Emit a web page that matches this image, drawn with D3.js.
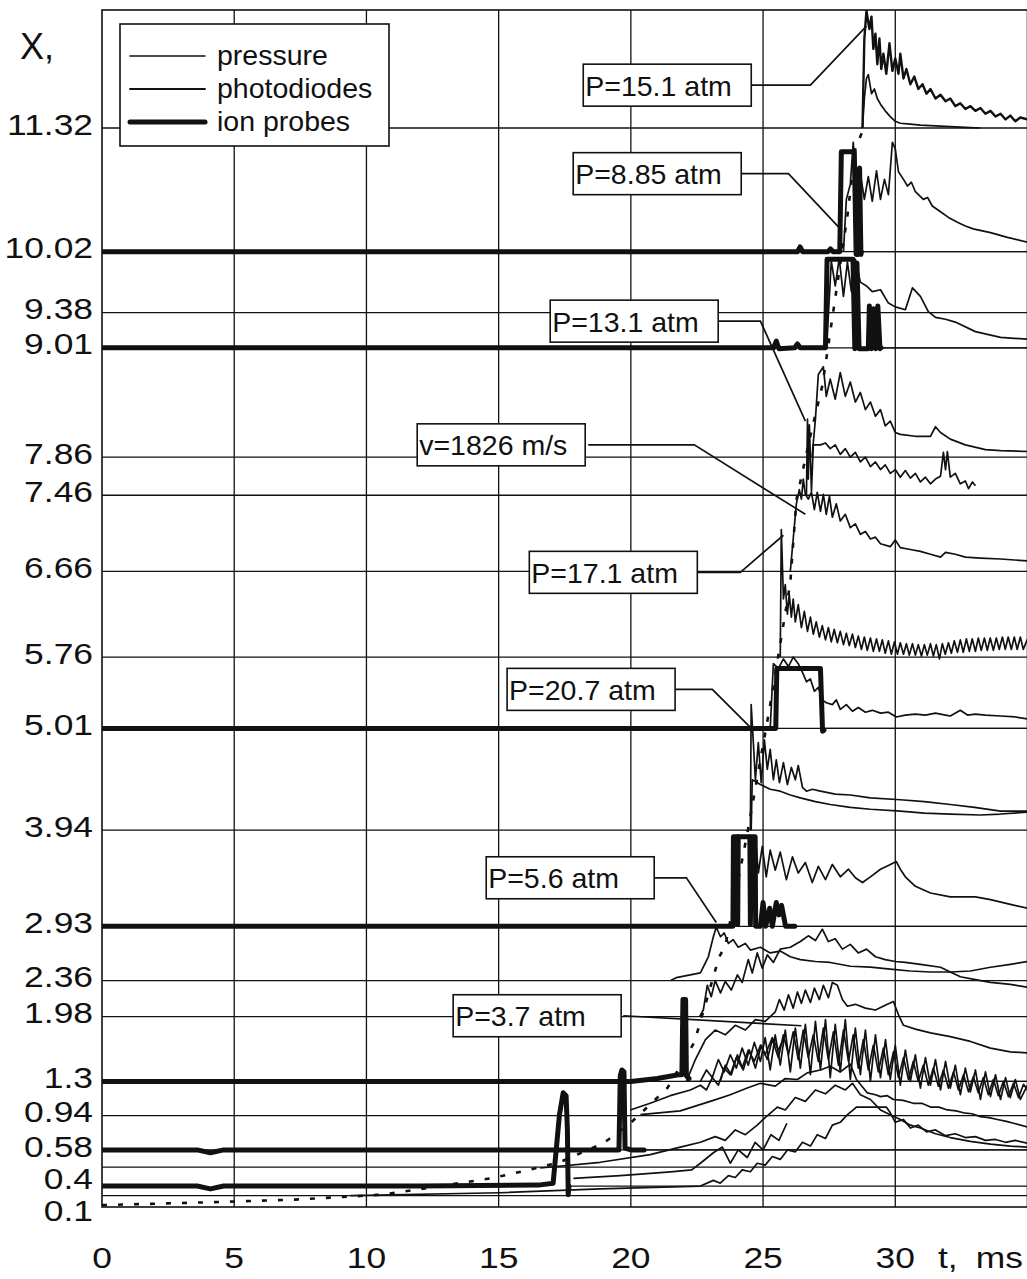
<!DOCTYPE html>
<html>
<head>
<meta charset="utf-8">
<script src="https://cdn.jsdelivr.net/npm/d3@7"></script>
<style>
  html, body { margin: 0; padding: 0; background: #fff; }
  svg { display: block; }
  text { font-family: "Liberation Sans", Arial, sans-serif; fill: #111; }
</style>
</head>
<body>
<svg id="chart" width="1027" height="1279"></svg>
<script>
// Gauge stations along the tube (X axis ticks) and time ticks (ms)
const stations = [11.32, 10.02, 9.38, 9.01, 7.86, 7.46, 6.66, 5.76, 5.01, 3.94, 2.93, 2.36, 1.98, 1.3, 0.94, 0.58, 0.4, 0.1];
const timeTicks = [0, 5, 10, 15, 20, 25, 30];

// Each record is [t (ms), X]; a signal is drawn offset onto its station's level.
const pressure1132 = [[28.76,11.32],[28.83,12.26],[28.91,12.55],[29.02,12.36],[29.10,12.49],[29.17,12.15],[29.25,12.31],[29.32,11.99],[29.40,12.26],[29.47,11.94],[29.55,12.10],[29.66,11.89],[29.78,12.21],[29.89,11.92],[30.00,12.05],[30.12,11.89],[30.19,12.10],[30.31,11.84],[30.42,11.94],[30.57,11.78],[30.72,11.86],[30.87,11.73],[31.03,11.78],[31.18,11.68],[31.33,11.73],[31.52,11.63],[31.71,11.67],[31.90,11.60],[32.08,11.63],[32.27,11.55],[32.46,11.58],[32.65,11.52],[32.84,11.55],[33.03,11.50],[33.22,11.53],[33.41,11.47],[33.60,11.50],[33.79,11.44],[33.98,11.47],[34.17,11.41],[34.35,11.45],[34.54,11.39],[34.73,11.43],[35.00,11.41]];
const photo1132 = [[28.76,11.32],[28.83,11.63],[28.91,11.84],[28.98,11.88],[29.10,11.68],[29.21,11.73],[29.32,11.63],[29.44,11.57],[29.62,11.50],[29.81,11.44],[30.00,11.39],[30.19,11.37],[30.57,11.36],[30.95,11.35],[31.71,11.34],[32.46,11.33],[33.22,11.32]];

const ion1002 = [[0,10.02],[26.30,10.02],[26.40,10.07],[26.50,10.02],[27.45,10.02],[27.55,10.05],[27.65,10.02],[27.90,10.02],[27.96,11.07],[28.45,11.07],[28.52,9.99],[28.60,9.99],[28.65,10.90],[28.70,9.99],[28.72,10.02]];
const signal1002 = [[28.04,10.02],[28.15,10.57],[28.30,10.73],[28.41,11.17],[28.53,10.68],[28.68,10.84],[28.83,10.57],[28.98,10.81],[29.13,10.55],[29.29,10.87],[29.44,10.57],[29.59,10.78],[29.74,10.62],[29.89,11.17],[30.00,11.10],[30.12,10.86],[30.31,10.78],[30.46,10.71],[30.61,10.75],[30.76,10.65],[31.06,10.57],[31.22,10.59],[31.40,10.50],[31.71,10.44],[32.01,10.38],[32.35,10.33],[32.65,10.29],[32.95,10.26],[33.60,10.22],[34.24,10.17],[35.00,10.12]];

const ion901 = [[0,9.01],[25.40,9.01],[25.50,9.08],[25.60,9.00],[26.20,9.01],[26.30,9.05],[26.40,9.01],[27.36,9.01],[27.42,9.94],[28.40,9.94],[28.47,9.00],[28.55,9.90],[28.63,9.00],[28.98,9.00],[29.02,9.45],[29.10,9.00],[29.18,9.42],[29.26,9.00],[29.34,9.45],[29.42,9.00],[29.46,9.01]];
const signal901 = [[27.39,9.01],[27.47,9.35],[27.58,9.92],[27.73,9.66],[27.88,9.95],[28.04,9.55],[28.19,9.91],[28.34,9.60],[28.49,9.94],[28.68,9.70],[28.91,9.66],[29.13,9.60],[29.44,9.62],[29.74,9.48],[30.00,9.44],[30.38,9.41],[30.65,9.64],[30.95,9.55],[31.25,9.39],[31.52,9.33],[31.90,9.31],[32.27,9.28],[33.03,9.18],[33.98,9.12],[35.00,9.10]];

const signal786 = [[26.85,7.86],[26.98,8.26],[27.09,8.73],[27.28,8.81],[27.39,8.50],[27.54,8.68],[27.73,8.47],[27.92,8.75],[28.11,8.50],[28.30,8.65],[28.49,8.44],[28.68,8.54],[28.87,8.36],[29.06,8.44],[29.25,8.29],[29.44,8.36],[29.62,8.19],[29.81,8.24],[30.00,8.12],[30.19,8.10],[30.76,8.08],[31.33,8.08],[31.52,8.18],[31.71,8.12],[32.08,8.05],[32.65,7.99],[33.41,7.94],[33.98,7.93],[35.00,7.92]];
const signal746 = [[26.64,7.46],[26.68,8.26],[26.71,7.63],[26.75,8.20],[26.83,7.50],[26.90,7.99],[27.17,7.99],[27.36,8.01],[27.54,7.95],[27.73,7.99],[27.92,7.89],[28.11,7.95],[28.30,7.86],[28.49,7.91],[28.68,7.81],[28.87,7.86],[29.06,7.76],[29.25,7.81],[29.44,7.73],[29.62,7.78],[29.81,7.69],[30.00,7.73],[30.19,7.65],[30.38,7.72],[30.57,7.64],[30.76,7.69],[30.95,7.60],[31.14,7.65],[31.33,7.58],[31.52,7.63],[31.71,7.66],[31.82,7.91],[31.90,7.73],[31.97,7.92],[32.08,7.65],[32.27,7.69],[32.46,7.58],[32.65,7.61],[32.77,7.53],[32.92,7.60],[33.03,7.56]];

const signal666 = [[26.03,6.66],[26.14,7.00],[26.26,7.37],[26.37,7.52],[26.45,7.42],[26.52,7.63],[26.60,7.47],[26.71,7.42],[26.83,7.49],[26.94,7.31],[27.05,7.49],[27.17,7.29],[27.28,7.47],[27.39,7.26],[27.51,7.45],[27.62,7.23],[27.77,7.37],[27.92,7.19],[28.11,7.26],[28.30,7.12],[28.49,7.16],[28.68,7.05],[28.87,7.08],[29.06,7.00],[29.25,7.02],[29.44,6.95],[29.81,6.92],[30.00,6.99],[30.19,6.91],[30.57,6.89],[30.95,6.87],[31.33,6.84],[31.71,6.81],[31.90,6.86],[32.27,6.84],[32.65,6.81],[33.22,6.80],[33.98,6.79],[35.00,6.77]];

const signal576 = [[25.65,5.76],[25.69,7.10],[25.77,6.37],[25.84,6.52],[25.92,6.21],[25.99,6.42],[26.07,6.18],[26.14,6.37],[26.22,6.13],[26.33,6.31],[26.45,6.07],[26.56,6.24],[26.68,6.03],[26.79,6.18],[26.90,6.00],[27.01,6.13],[27.13,5.97],[27.24,6.09],[27.36,5.94],[27.47,6.07],[27.58,5.92],[27.69,6.05],[27.81,5.91],[27.92,6.03],[28.04,5.89],[28.15,6.01],[28.26,5.88],[28.38,6.00],[28.49,5.86],[28.60,5.98],[28.72,5.84],[28.83,5.97],[28.94,5.83],[29.06,5.96],[29.17,5.82],[29.29,5.95],[29.40,5.82],[29.51,5.94],[29.62,5.80],[29.74,5.93],[29.85,5.79],[29.97,5.92],[30.08,5.79],[30.19,5.91],[30.31,5.79],[30.42,5.90],[30.53,5.78],[30.65,5.90],[30.76,5.78],[30.87,5.89],[30.99,5.77],[31.10,5.89],[31.21,5.78],[31.33,5.90],[31.44,5.77],[31.55,5.89],[31.67,5.74],[31.78,5.90],[31.89,5.79],[32.01,5.91],[32.12,5.80],[32.23,5.93],[32.35,5.81],[32.46,5.94],[32.57,5.81],[32.69,5.95],[32.80,5.82],[32.91,5.95],[33.03,5.82],[33.14,5.96],[33.25,5.83],[33.37,5.96],[33.48,5.83],[33.59,5.96],[33.71,5.83],[33.82,5.96],[33.93,5.84],[34.05,5.97],[34.16,5.84],[34.27,5.97],[34.39,5.84],[34.50,5.97],[34.61,5.84],[34.73,5.97],[34.84,5.84],[35.00,5.95]];

const ion501 = [[0,5.01],[25.48,5.01],[25.52,5.64],[27.17,5.64],[27.25,4.98],[27.30,4.99]];
const signal501 = [[25.27,5.01],[25.39,5.69],[25.58,5.64],[25.77,5.74],[25.96,5.66],[26.14,5.76],[26.33,5.69],[26.52,5.58],[26.64,5.50],[26.79,5.53],[26.94,5.40],[27.09,5.44],[27.24,5.31],[27.39,5.28],[27.62,5.26],[27.77,5.31],[27.92,5.21],[28.15,5.26],[28.38,5.19],[28.60,5.23],[28.87,5.18],[29.13,5.20],[29.44,5.17],[29.74,5.18],[30.04,5.13],[30.38,5.15],[30.76,5.16],[31.14,5.15],[31.52,5.17],[31.90,5.15],[32.08,5.14],[32.46,5.20],[32.73,5.15],[33.03,5.16],[33.41,5.15],[33.98,5.14],[34.54,5.13],[35.00,5.11]];

const signal394a = [[24.52,3.94],[24.55,5.26],[24.62,4.92],[24.71,4.47],[24.82,4.86],[24.93,4.44],[25.05,4.89],[25.16,4.58],[25.27,4.79],[25.39,4.47],[25.50,4.68],[25.62,4.44],[25.77,4.65],[25.92,4.42],[26.07,4.60],[26.22,4.47],[26.33,4.62],[26.49,4.39],[26.64,4.35],[26.86,4.37],[27.17,4.35],[27.73,4.32],[28.30,4.31],[29.06,4.28],[30.19,4.26],[31.10,4.24],[32.08,4.21],[33.00,4.18],[33.98,4.14],[35.00,4.14]];
const signal394b = [[24.55,3.94],[24.59,4.47],[24.90,4.42],[25.27,4.37],[25.65,4.35],[26.03,4.31],[26.41,4.28],[26.98,4.24],[27.54,4.21],[28.30,4.18],[29.06,4.16],[30.19,4.14],[31.10,4.12],[32.08,4.11],[33.22,4.10],[33.98,4.11],[35.00,4.13]];

const ion293 = [[0,2.93],[23.86,2.93],[23.88,3.87],[24.02,3.87],[24.04,2.95],[24.06,3.87],[24.50,3.87],[24.52,2.95],[24.56,3.87],[24.70,3.87],[24.72,2.93],[24.90,2.93],[25.00,3.18],[25.10,2.93],[25.25,3.12],[25.35,2.93],[25.50,3.18],[25.60,3.05],[25.70,3.15],[25.85,2.93],[26.20,2.93]];
const signal293 = [[24.71,3.87],[24.82,3.49],[24.97,3.77],[25.12,3.45],[25.27,3.73],[25.46,3.52],[25.65,3.71],[25.88,3.42],[26.11,3.66],[26.33,3.49],[26.60,3.60],[26.86,3.39],[27.09,3.56],[27.36,3.42],[27.62,3.58],[27.92,3.45],[28.23,3.53],[28.49,3.44],[28.76,3.39],[29.06,3.45],[29.44,3.53],[29.74,3.57],[30.04,3.61],[30.19,3.53],[30.38,3.45],[30.76,3.35],[31.33,3.28],[32.08,3.24],[32.46,3.24],[33.03,3.24],[33.60,3.21],[34.35,3.16],[35.00,3.12]];

const signal236 = [[21.50,2.36],[21.72,2.39],[22.63,2.44],[22.93,2.61],[23.12,2.82],[23.23,2.92],[23.39,2.82],[23.53,2.86],[23.69,2.75],[23.87,2.79],[24.06,2.71],[24.33,2.75],[24.52,2.68],[24.90,2.71],[25.27,2.65],[25.65,2.67],[26.03,2.61],[26.41,2.58],[26.98,2.56],[27.54,2.55],[28.30,2.51],[29.06,2.50],[29.81,2.48],[30.57,2.46],[31.33,2.45],[32.08,2.45],[32.84,2.46],[33.60,2.50],[34.35,2.53],[35.00,2.56]];

const signal198 = [[22.60,1.98],[22.74,2.05],[22.89,2.31],[23.04,2.19],[23.19,2.36],[23.39,2.23],[23.57,2.35],[23.80,2.26],[24.03,2.42],[24.21,2.34],[24.44,2.58],[24.59,2.44],[24.78,2.65],[24.97,2.49],[25.16,2.63],[25.39,2.55],[25.65,2.69],[26.03,2.71],[26.41,2.77],[26.71,2.83],[26.98,2.78],[27.24,2.90],[27.47,2.77],[27.73,2.80],[28.00,2.69],[28.30,2.74],[28.60,2.65],[28.91,2.69],[29.25,2.61],[29.62,2.58],[30.00,2.56],[30.38,2.55],[30.95,2.53],[31.71,2.50],[32.08,2.45],[32.46,2.40],[33.03,2.37],[33.60,2.34],[34.35,2.32],[35.00,2.29]];

const ion130 = [[0,1.30],[20.00,1.30],[21.00,1.33],[21.80,1.37],[21.93,1.37],[21.97,2.16],[22.07,2.16],[22.10,1.36],[22.20,1.33]];
const pressure130 = [[22.10,1.30],[22.44,1.53],[22.82,1.74],[23.19,1.84],[23.57,1.79],[23.95,1.89],[24.33,1.84],[24.71,1.95],[25.08,1.93],[25.46,2.03],[25.62,2.16],[25.80,2.05],[25.96,2.21],[26.14,2.07],[26.30,2.24],[26.45,2.12],[26.60,2.26],[26.79,2.13],[26.94,2.28],[27.13,2.16],[27.28,2.31],[27.47,2.18],[27.62,2.34],[27.81,2.31],[28.00,2.16],[28.19,2.09],[28.49,2.11],[28.87,2.07],[29.25,2.05],[29.62,2.10],[29.93,2.14],[30.12,2.00],[30.31,1.89],[30.76,1.85],[31.33,1.81],[32.08,1.77],[32.84,1.72],[33.60,1.65],[34.35,1.61],[35.00,1.60]];
const photo130a = [[22.63,1.30],[22.86,1.42],[23.08,1.34],[23.31,1.53],[23.53,1.40],[23.76,1.58],[23.99,1.44],[24.21,1.65],[24.44,1.47],[24.67,1.71],[24.90,1.51],[25.08,1.76],[25.27,1.42],[25.46,1.79],[25.65,1.47],[25.84,1.84],[26.03,1.40],[26.22,1.86],[26.41,1.44],[26.60,1.90],[26.79,1.37],[26.98,1.93],[27.17,1.42],[27.36,1.95],[27.54,1.34],[27.73,1.90],[27.92,1.40],[28.11,1.95],[28.30,1.32],[28.49,1.86],[28.68,1.37],[28.87,1.84],[29.06,1.30],[29.25,1.79],[29.44,1.34],[29.63,1.74],[29.81,1.32],[30.00,1.68],[30.19,1.26],[30.38,1.63],[30.57,1.30],[30.76,1.58],[30.95,1.23],[31.14,1.55],[31.33,1.26],[31.52,1.53],[31.71,1.21],[31.90,1.51],[32.08,1.23],[32.27,1.47],[32.46,1.16],[32.65,1.44],[32.84,1.19],[33.03,1.42],[33.22,1.11],[33.41,1.40],[33.60,1.14],[33.79,1.37],[33.98,1.11],[34.17,1.34],[34.35,1.13],[34.54,1.32],[34.73,1.11],[35.00,1.26]];
const photo130b = [[23.38,1.30],[23.57,1.47],[23.80,1.37],[24.03,1.58],[24.25,1.42],[24.48,1.63],[24.71,1.44],[24.93,1.68],[25.16,1.53],[25.35,1.74],[25.58,1.55],[25.77,1.79],[25.96,1.58],[26.14,1.82],[26.33,1.53],[26.52,1.84],[26.71,1.55],[26.90,1.79],[27.09,1.51],[27.28,1.86],[27.47,1.53],[27.66,1.82],[27.85,1.47],[28.04,1.84],[28.23,1.51],[28.41,1.79],[28.60,1.44],[28.79,1.74],[28.98,1.42],[29.17,1.68],[29.36,1.40],[29.55,1.65],[29.74,1.37],[29.93,1.61],[30.12,1.34],[30.31,1.55],[30.50,1.32],[30.68,1.51],[30.87,1.30],[31.06,1.47],[31.25,1.26],[31.44,1.44],[31.63,1.25],[31.82,1.42],[32.01,1.23],[32.20,1.40],[32.39,1.21],[32.58,1.37],[32.77,1.19],[32.95,1.35],[33.14,1.18],[33.33,1.34],[33.52,1.16],[33.71,1.32],[33.90,1.15],[34.09,1.30],[34.28,1.14],[34.47,1.28],[34.66,1.13],[34.85,1.27],[35.00,1.21]];

const signal094 = [[20.36,0.95],[21.87,0.99],[23.12,1.10],[23.76,1.16],[24.40,1.23],[24.90,1.28],[25.46,1.25],[25.84,1.33],[26.30,1.32],[26.67,1.39],[27.17,1.42],[27.54,1.46],[27.92,1.40],[28.30,1.48],[28.53,1.32],[28.94,1.18],[29.25,1.16],[29.44,1.14],[29.70,1.15],[29.93,1.11],[30.30,1.10],[30.68,1.07],[31.00,1.07],[31.33,1.03],[31.65,1.03],[31.97,1.00],[32.30,0.99],[32.58,0.97],[32.90,0.96],[33.22,0.93],[33.55,0.92],[33.86,0.90],[34.20,0.88],[34.47,0.86],[35.00,0.82]];

const ion058 = [[0,0.58],[3.60,0.58],[4.10,0.55],[4.60,0.58],[19.55,0.58],[19.60,1.36],[19.66,1.42],[19.74,1.40],[19.78,0.60],[20.00,0.58],[20.50,0.58]];
const signal058 = [[19.98,1.00],[20.73,1.07],[21.49,1.15],[22.25,1.21],[22.63,1.26],[22.86,1.21],[23.08,1.34],[23.31,1.26],[23.53,1.44],[23.76,1.37],[23.99,1.55],[24.21,1.44],[24.44,1.63],[24.67,1.51],[24.90,1.68],[25.08,1.58],[25.35,1.76],[25.58,1.63],[25.84,1.79]];

const ion040 = [[0,0.20],[3.60,0.20],[4.10,0.17],[4.60,0.20],[12.00,0.20],[16.50,0.21],[17.06,0.23],[17.15,0.50],[17.30,0.95],[17.44,1.18],[17.55,1.15],[17.60,0.80],[17.63,0.11],[17.66,0.20]];
const signal040 = [[16.57,0.39],[18.84,0.45],[20.73,0.53],[21.87,0.61],[22.63,0.66],[23.19,0.72],[23.57,0.68],[23.95,0.79],[24.33,0.74],[24.78,0.84],[25.08,0.92],[25.54,1.03],[25.84,1.00],[26.22,1.13],[26.60,1.09],[26.98,1.21],[27.36,1.17],[27.73,1.26],[28.11,1.21],[28.38,1.28],[28.68,1.16],[29.06,1.11],[29.44,1.00],[29.81,0.95],[30.19,0.90],[30.57,0.84],[30.95,0.81],[31.52,0.75],[32.08,0.71],[32.84,0.67],[33.60,0.64],[34.35,0.62],[35.00,0.61]];
const signal040b = [[17.83,0.28],[19.60,0.31],[21.50,0.35],[22.30,0.37],[22.63,0.44],[23.12,0.55],[23.46,0.61],[23.76,0.44],[24.06,0.58],[24.40,0.50],[24.70,0.66],[25.00,0.58],[25.30,0.74],[25.60,0.68],[25.90,0.86]];

const signal010 = [[9.40,0.10],[15.06,0.13],[18.84,0.17],[22.63,0.20],[23.12,0.26],[23.38,0.23],[23.69,0.31],[23.95,0.29],[24.21,0.37],[24.52,0.35],[24.78,0.44],[25.08,0.42],[25.35,0.51],[25.65,0.48],[25.92,0.58],[26.22,0.56],[26.49,0.66],[26.79,0.62],[27.05,0.74],[27.36,0.70],[27.62,0.84],[27.92,0.87],[28.19,0.95],[28.41,1.00],[28.53,1.03],[29.66,1.03],[29.81,0.97],[30.00,0.87],[30.31,0.90],[30.57,0.81],[30.87,0.84],[31.18,0.77],[31.52,0.79],[31.90,0.73],[32.27,0.75],[32.65,0.71],[33.03,0.72],[33.41,0.68],[33.79,0.69],[34.17,0.66],[34.54,0.68],[35.00,0.65]];

// Front trajectory in the X-t plane (dotted)
const frontPath = [[0,0.00],[4.09,0.03],[7.49,0.06],[10.63,0.11],[14.68,0.28],[16.00,0.36],[17.30,0.45],[18.96,0.65],[19.98,0.86],[21.38,1.23],[22.40,1.71],[23.34,2.61],[23.57,2.72],[24.40,3.90],[25.24,5.21],[26.03,6.54],[26.26,7.41],[26.80,8.10],[27.24,8.61],[28.19,10.40],[28.49,11.10],[28.75,11.28]];

// Callouts: box left edge (t), box centre level (X), leader polyline
const callouts = [
  { text: "P=15.1 atm",  t: 18.20, level: 11.77, leader: [[24.56,11.77],[26.79,11.77],[28.91,12.39]] },
  { text: "P=8.85 atm",  t: 17.82, level: 10.84, leader: [[24.14,10.84],[25.96,10.84],[27.85,10.28]] },
  { text: "P=13.1 atm",  t: 16.95, level: 9.29,  leader: [[23.31,9.29],[24.90,9.29],[26.60,8.24]] },
  { text: "v=1826 m/s",  t: 11.92, level: 7.99,  leader: [[18.39,7.99],[22.40,7.99],[26.60,7.26]] },
  { text: "P=17.1 atm",  t: 16.16, level: 6.65,  leader: [[22.51,6.65],[24.14,6.65],[25.77,7.04]] },
  { text: "P=20.7 atm",  t: 15.32, level: 5.42,  leader: [[21.68,5.42],[23.08,5.42],[24.52,5.02]] },
  { text: "P=5.6 atm",   t: 14.53, level: 3.44,  leader: [[20.89,3.44],[22.10,3.44],[23.23,2.97]] },
  { text: "P=3.7 atm",   t: 13.28, level: 1.99,  leader: [[19.71,1.99],[26.45,1.885]] }
];

const legendItems = [
  { label: "pressure",    kind: "pressure" },
  { label: "photodiodes", kind: "photo" },
  { label: "ion probes",  kind: "ion" }
];

// Signals by kind
const thinSignals = [
  { data: photo1132, kind: "photo" }, { data: signal1002, kind: "photo" }, { data: signal901, kind: "pressure" },
  { data: signal786, kind: "photo" }, { data: signal746, kind: "pressure" }, { data: signal666, kind: "photo" },
  { data: signal576, kind: "pressure" }, { data: signal501, kind: "photo" }, { data: signal394a, kind: "pressure" },
  { data: signal394b, kind: "photo" }, { data: signal293, kind: "photo" }, { data: signal236, kind: "photo" },
  { data: signal198, kind: "photo" }, { data: pressure130, kind: "pressure" }, { data: photo130a, kind: "photo" },
  { data: photo130b, kind: "photo" }, { data: signal094, kind: "photo" }, { data: signal058, kind: "pressure" },
  { data: signal040, kind: "photo" }, { data: signal040b, kind: "pressure" }, { data: signal010, kind: "photo" },
  { data: pressure1132, kind: "pressureBold" }
];
const ionSignals = [ion1002, ion901, ion501, ion293, ion130, ion058, ion040];

// ---------------------------------------------------------------
const ink = "#111";
const svg = d3.select("#chart");
const x = d3.scaleLinear().domain([0, 35]).range([102, 1027.5]);
const y = d3.scaleLinear().domain([-0.02, 12.56]).range([1207, 10]);
const line = d3.line().x(d => x(d[0])).y(d => y(d[1]));
const strokeFor = { pressure: 1.7, photo: 1.7, pressureBold: 2.4, ion: 5 };

svg.append("defs").append("clipPath").attr("id", "plotClip")
  .append("rect").attr("x", x(0)).attr("y", y(12.56)).attr("width", x(35) - x(0)).attr("height", y(-0.02) - y(12.56));

// grid
const grid = svg.append("g");
grid.selectAll("line.hgrid").data(stations).join("line").attr("class", "hgrid")
  .attr("x1", x(0)).attr("x2", x(35)).attr("y1", d => y(d)).attr("y2", d => y(d))
  .attr("stroke", ink).attr("stroke-width", 1.3);
grid.selectAll("line.vgrid").data(timeTicks.filter(t => t > 0)).join("line").attr("class", "vgrid")
  .attr("x1", d => x(d)).attr("x2", d => x(d)).attr("y1", y(12.56)).attr("y2", y(-0.02))
  .attr("stroke", ink).attr("stroke-width", 1.3);
grid.append("rect").attr("x", x(0)).attr("y", y(12.56)).attr("width", x(35) - x(0)).attr("height", y(-0.02) - y(12.56))
  .attr("fill", "none").attr("stroke", ink).attr("stroke-width", 1.6);

const plot = svg.append("g").attr("clip-path", "url(#plotClip)");

// thin gauge signals
plot.selectAll("path.sig").data(thinSignals).join("path").attr("class", "sig")
  .attr("d", d => line(d.data)).attr("fill", "none").attr("stroke", ink)
  .attr("stroke-width", d => strokeFor[d.kind]).attr("stroke-linejoin", "round");

// ion probe signals: thick until the pulse ends, then thin baseline
plot.selectAll("path.ion").data(ionSignals).join("path").attr("class", "ion")
  .attr("d", d => line(d)).attr("fill", "none").attr("stroke", ink)
  .attr("stroke-width", strokeFor.ion).attr("stroke-linejoin", "round").attr("stroke-linecap", "round");
plot.selectAll("line.iontail").data(ionSignals).join("line").attr("class", "iontail")
  .attr("x1", d => x(d[d.length - 1][0])).attr("x2", x(35))
  .attr("y1", d => y(d[0][1])).attr("y2", d => y(d[0][1]))
  .attr("stroke", ink).attr("stroke-width", 1.3);

// front trajectory
plot.append("path").attr("d", line(frontPath)).attr("fill", "none").attr("stroke", ink)
  .attr("stroke-width", 2.6).attr("stroke-dasharray", "5,11");

// callouts
const boxW = 168, boxH = 42;
const co = svg.append("g");
co.selectAll("path.leader").data(callouts).join("path").attr("class", "leader")
  .attr("d", d => line(d.leader)).attr("fill", "none").attr("stroke", ink).attr("stroke-width", 1.7);
const coBox = co.selectAll("g.box").data(callouts).join("g").attr("class", "box")
  .attr("transform", d => `translate(${x(d.t)},${y(d.level) - boxH / 2})`);
coBox.append("rect").attr("width", boxW).attr("height", boxH)
  .attr("fill", "#fff").attr("stroke", ink).attr("stroke-width", 1.6);
coBox.append("text").attr("x", 2).attr("y", boxH / 2 + 10.5)
  .style("font-size", "28.5px").text(d => d.text);

// legend
const lg = svg.append("g").attr("transform", "translate(120,24)");
lg.append("rect").attr("width", 269).attr("height", 122).attr("fill", "#fff")
  .attr("stroke", ink).attr("stroke-width", 1.6);
const lgRow = lg.selectAll("g.row").data(legendItems).join("g").attr("class", "row")
  .attr("transform", (d, i) => `translate(0,${32 + i * 33})`);
lgRow.append("line").attr("x1", 10).attr("x2", 85).attr("y1", 0).attr("y2", 0)
  .attr("stroke", ink).attr("stroke-width", d => d.kind === "ion" ? 5 : (d.kind === "photo" ? 1.9 : 1.5))
  .attr("stroke-linecap", "round");
lgRow.append("text").attr("x", 97).attr("y", 9).style("font-size", "28.5px").text(d => d.label);

// Y axis labels (nudged apart where stations are close)
const yLab = stations.map(v => ({ v, cy: y(v) - 4 })).sort((a, b) => a.cy - b.cy);
for (let i = 1; i < yLab.length; i++) {
  if (yLab[i].cy - yLab[i - 1].cy < 32) yLab[i].cy = yLab[i - 1].cy + 32;
}
svg.append("g").selectAll("text").data(yLab).join("text")
  .attr("transform", d => `translate(93,${d.cy + 10.7}) scale(1.18,1)`)
  .attr("text-anchor", "end").style("font-size", "30px").text(d => String(d.v));
svg.append("text").attr("x", 20).attr("y", 59).style("font-size", "36px").text("X,");

// X axis labels
svg.append("g").selectAll("text").data(timeTicks).join("text")
  .attr("transform", d => `translate(${x(d)},1268) scale(1.18,1)`)
  .attr("text-anchor", "middle").style("font-size", "30px").text(d => d);
svg.append("text").attr("transform", "translate(938,1268) scale(1.18,1)")
  .style("font-size", "30px").style("word-spacing", "7px").text("t, ms");
</script>
</body>
</html>
